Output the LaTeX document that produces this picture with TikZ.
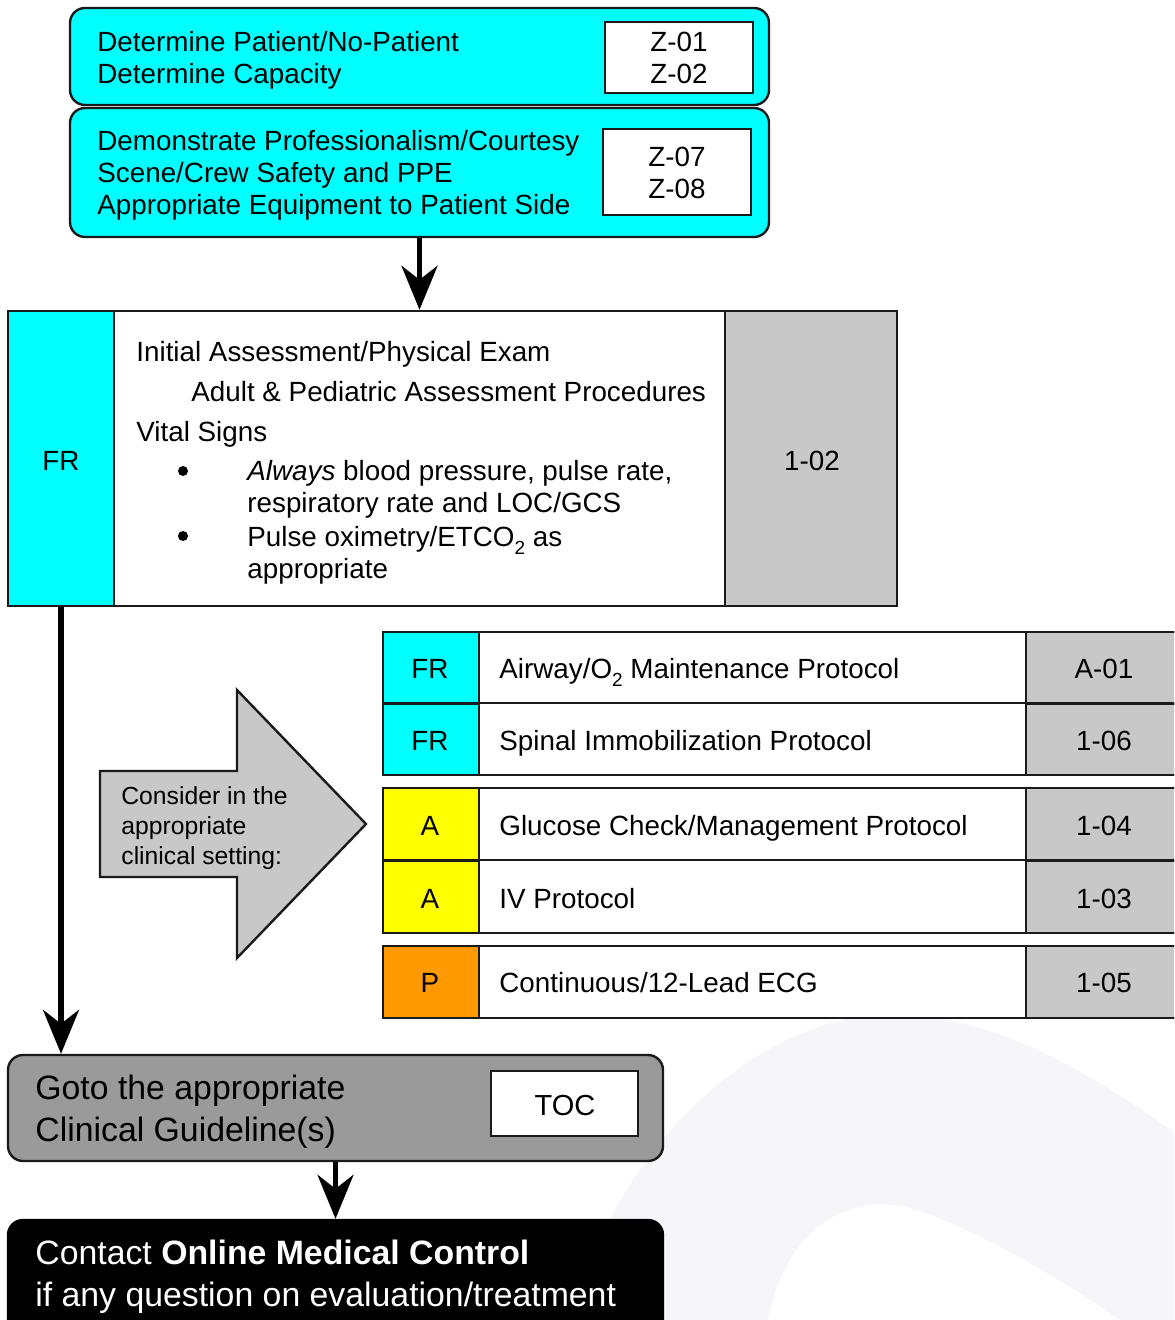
\documentclass[tikz,border=0pt]{standalone}
\usepackage{fontspec}
\setmainfont{Liberation Sans}
\usetikzlibrary{arrows.meta,fit}
\definecolor{cyanfill}{HTML}{00FFFF}
\definecolor{yellowfill}{HTML}{FFFF00}
\definecolor{orangefill}{HTML}{FF9900}
\definecolor{codegray}{HTML}{C8C8C8}
\definecolor{gotogray}{HTML}{9A9A9A}
\definecolor{wmark}{HTML}{F6F6FA}
\definecolor{edge}{HTML}{1A1A1A}
\newcommand\fsz[1]{\fontsize{#1}{#1}\selectfont}
\newcommand\lowsub[1]{\raisebox{-0.55ex}{\fsz{9.5pt}#1}}
\begin{document}
\begin{tikzpicture}[x=0.5pt,y=-0.5pt,
  cell/.style={draw=edge, line width=1.2pt, inner sep=0pt},
  rbox/.style={cell, rounded corners=7.5pt},
  txt/.style={font=\fsz{13.9pt}, inner sep=0pt, anchor=base west},
  ctxt/.style={font=\fsz{13.9pt}, inner sep=0pt, anchor=base},
  arr/.style={line width=2.6pt, -{Stealth[length=22pt,width=18pt,inset=7pt]}},
  bullet/.style={circle, fill=black, inner sep=0pt, minimum size=5pt}
]
\clip (0,0) rectangle (1174,1320);
\fill[white] (0,0) rectangle (1174,1320);
% watermark
\fill[wmark, even odd rule]
  (575,1320) .. controls (610,1150) and (760,1012) .. (895,1014)
  .. controls (1000,1016) and (1100,1080) .. (1174,1132) -- (1174,1320) -- cycle
  (768,1320) .. controls (785,1235) and (835,1204) .. (885,1204)
  .. controls (930,1204) and (1050,1270) .. (1120,1320) -- cycle;

% top boxes
\node[rbox, fill=cyanfill, fit={(70,8)(769,105)}] (b1) {};
\node[cell, fill=white, fit={(605,22)(753,93)}] (z1) {};
\node[txt] (t11) at (97,52) {Determine Patient/No-Patient};
\node[txt] (t12) at (97,84) {Determine Capacity};
\node[ctxt] (z11) at (679,52) {Z-01};
\node[ctxt] (z12) at (679,84) {Z-02};

\node[rbox, fill=cyanfill, fit={(70,108)(769,237)}] (b2) {};
\node[cell, fill=white, fit={(603,129)(751,215)}] (z2) {};
\node[txt] (t21) at (97,151) {Demonstrate Professionalism/Courtesy};
\node[txt] (t22) at (97,183) {Scene/Crew Safety and PPE};
\node[txt] (t23) at (97,215) {Appropriate Equipment to Patient Side};
\node[ctxt] (z21) at (677,167) {Z-07};
\node[ctxt] (z22) at (677,199) {Z-08};

% assessment row
\node[cell, fill=white, fit={(8,311)(897,606)}] (big) {};
\node[cell, fill=cyanfill, fit={(8,311)(114,606)}] (fr0) {};
\node[cell, fill=codegray, fit={(725,311)(897,606)}] (c0) {};
\node[ctxt] (fr0t) at (61,470) {FR};
\node[ctxt] (c0t) at (812,470) {1-02};
\node[txt] (a1) at (136,362) {Initial Assessment/Physical Exam};
\node[txt] (a2) at (191,401) {Adult \& Pediatric Assessment Procedures};
\node[txt] (a3) at (136,441) {Vital Signs};
\node[bullet] (bu1) at (183,471) {};
\node[txt] (a4) at (247,480) {\textit{Always} blood pressure, pulse rate,};
\node[txt] (a5) at (247,512) {respiratory rate and LOC/GCS};
\node[bullet] (bu2) at (183,536) {};
\node[txt] (a6) at (247,546) {Pulse oximetry/ETCO\lowsub{2} as};
\node[txt] (a7) at (247,578) {appropriate};

% big arrow
\draw[draw=edge, line width=1.2pt, fill=codegray]
  (100,771) -- (237,771) -- (237,690) -- (366,824) -- (237,958) -- (237,877) -- (100,877) -- cycle;
\node[inner sep=0pt, anchor=base west, font=\fsz{12.35pt}] (k1) at (121,804) {Consider in the};
\node[inner sep=0pt, anchor=base west, font=\fsz{12.35pt}] (k2) at (121,834) {appropriate};
\node[inner sep=0pt, anchor=base west, font=\fsz{12.35pt}] (k3) at (121,864) {clinical setting:};

% protocol table
\node[cell, fill=white, fit={(383,632)(1180,775)}] (g1) {};
\node[cell, fill=white, fit={(383,788)(1180,933)}] (g2) {};
\node[cell, fill=white, fit={(383,946)(1180,1018)}] (g3) {};
% row 1
\node[cell, fill=cyanfill, fit={(383,632)(479,704)}] (l1) {};
\node[cell, fill=codegray, fit={(1026,632)(1180,704)}] (r1) {};
\node[ctxt] (l1t) at (430,678) {FR};
\node[txt] (m1t) at (499,678) {Airway/O\lowsub{2} Maintenance Protocol};
\node[ctxt] (r1t) at (1104,678) {A-01};
% row 2
\node[cell, fill=cyanfill, fit={(383,704)(479,775)}] (l2) {};
\node[cell, fill=codegray, fit={(1026,704)(1180,775)}] (r2) {};
\draw[edge, line width=1.2pt] (l2.north west) -- (r2.north east);
\node[ctxt] (l2t) at (430,750) {FR};
\node[txt] (m2t) at (499,750) {Spinal Immobilization Protocol};
\node[ctxt] (r2t) at (1104,750) {1-06};
% row 3
\node[cell, fill=yellowfill, fit={(383,788)(479,861)}] (l3) {};
\node[cell, fill=codegray, fit={(1026,788)(1180,861)}] (r3) {};
\node[ctxt] (l3t) at (430,835) {A};
\node[txt] (m3t) at (499,835) {Glucose Check/Management Protocol};
\node[ctxt] (r3t) at (1104,835) {1-04};
% row 4
\node[cell, fill=yellowfill, fit={(383,861)(479,933)}] (l4) {};
\node[cell, fill=codegray, fit={(1026,861)(1180,933)}] (r4) {};
\draw[edge, line width=1.2pt] (l4.north west) -- (r4.north east);
\node[ctxt] (l4t) at (430,908) {A};
\node[txt] (m4t) at (499,908) {IV Protocol};
\node[ctxt] (r4t) at (1104,908) {1-03};
% row 5
\node[cell, fill=orangefill, fit={(383,946)(479,1018)}] (l5) {};
\node[cell, fill=codegray, fit={(1026,946)(1180,1018)}] (r5) {};
\node[ctxt] (l5t) at (430,992) {P};
\node[txt] (m5t) at (499,992) {Continuous/12-Lead ECG};
\node[ctxt] (r5t) at (1104,992) {1-05};

% goto box
\node[rbox, fill=gotogray, fit={(8,1055)(663,1161)}] (goto) {};
\node[cell, fill=white, fit={(491,1071)(638,1136)}] (toc) {};
\node[inner sep=0pt, anchor=base, font=\fsz{14.5pt}] (toct) at (565,1115) {TOC};
\node[inner sep=0pt, anchor=base west, font=\fsz{16.9pt}] (g1t) at (35,1099) {Goto the appropriate};
\node[inner sep=0pt, anchor=base west, font=\fsz{16.9pt}] (g2t) at (35,1141) {Clinical Guideline(s)};

% contact box
\node[draw=black, fill=black, rounded corners=7.5pt, inner sep=0pt, line width=1.2pt, fit={(8,1220)(663,1345)}] (contact) {};
\node[inner sep=0pt, anchor=base west, font=\fsz{16.9pt}, text=white] (c1t) at (35,1264) {Contact \textbf{Online Medical Control}};
\node[inner sep=0pt, anchor=base west, font=\fsz{16.9pt}, text=white] (c2t) at (35,1306) {if any question on evaluation/treatment};

% connectors
\draw[arr] (b2.south) -- (b2.south |- big.north);
\draw[arr] (fr0.south) -- (fr0.south |- goto.north);
\draw[arr] (goto.south) -- (contact.north);
\end{tikzpicture}
\end{document}
